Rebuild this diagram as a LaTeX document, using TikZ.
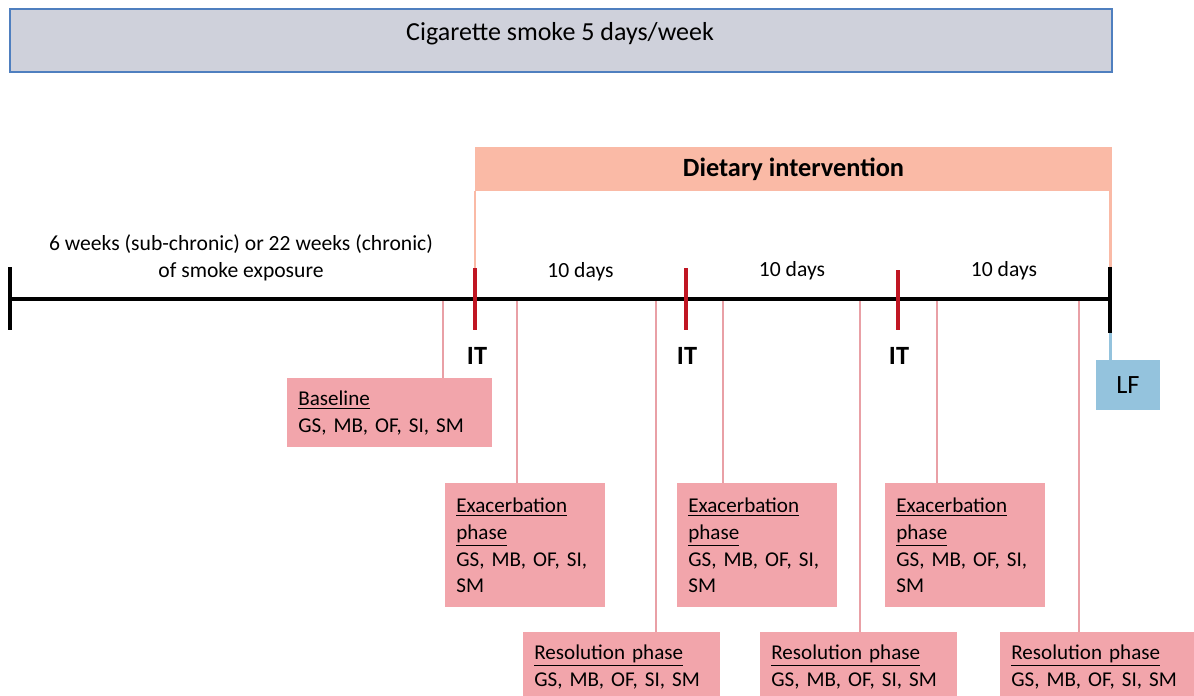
\documentclass[tikz,border=0pt]{standalone}
\usepackage{fontspec}
\setmainfont{Carlito}
\usetikzlibrary{positioning,calc}
\definecolor{smokegray}{HTML}{CFD1DB}
\definecolor{smokeblue}{HTML}{4F7FBF}
\definecolor{dietsalmon}{HTML}{FABAA6}
\definecolor{samplepink}{HTML}{F2A5AB}
\definecolor{linkpink}{HTML}{E9A0A6}
\definecolor{itred}{HTML}{C01623}
\definecolor{lfblue}{HTML}{94C3DD}

\begin{document}
\frenchspacing
\begin{tikzpicture}[
  x=0.02cm, y=-0.02cm,
  lbl/.style={font=\fontsize{12.3}{15.3}\selectfont, inner sep=0pt},
  itlbl/.style={font=\bfseries\fontsize{15}{18}\selectfont, inner sep=0pt},
  sample/.style={fill=samplepink, anchor=north west, align=left, inner xsep=0.22cm, inner ysep=0pt, font=\fontsize{12}{15.3}\selectfont},
  link/.style={linkpink, line width=1.6pt},
  dietline/.style={dietsalmon, line width=1.7pt},
  itmark/.style={itred, line width=2.3pt},
  endmark/.style={black, line width=2.3pt}
]
\useasboundingbox (0,0) rectangle (1194,696);
\clip (0,0) rectangle (1194,696);

% exposure and diet bars
\node[draw=smokeblue, fill=smokegray, line width=1.3pt, minimum width=22.04cm, minimum height=1.26cm, inner sep=0pt] (smoke) at (561,40.5) {};
\node[font=\fontsize{14.8}{17}\selectfont] (smoketxt) at (560,34) {Cigarette smoke 5 days/week};
\node[fill=dietsalmon, minimum width=12.74cm, minimum height=0.88cm, inner sep=0pt, font=\bfseries\fontsize{15}{17}\selectfont] (diet) at (793.5,169) {Dietary intervention};

% time points
\coordinate (t0) at (10,299);
\coordinate (it1) at (475,299);
\coordinate (it2) at (686,299);
\coordinate (it3) at (898,299);
\coordinate (t4) at (1110,299);
\coordinate (s1) at (443,299);
\coordinate (s2) at (517,299);
\coordinate (s3) at (656,299);
\coordinate (s4) at (723,299);
\coordinate (s5) at (860,299);
\coordinate (s6) at (937,299);
\coordinate (s7) at (1079,299);

% sampling boxes
\node[sample, text width=3.66cm, minimum height=1.38cm] (base) at (287,378) {\underline{Baseline}\\GS, MB, OF, SI, SM};
\node[sample, text width=2.76cm, minimum height=2.48cm] (exa1) at (445,483) {\underline{Exacerbation}\\\underline{phase}\\GS, MB, OF, SI,\\SM};
\node[sample, text width=2.76cm, minimum height=2.48cm] (exa2) at (677,483) {\underline{Exacerbation}\\\underline{phase}\\GS, MB, OF, SI,\\SM};
\node[sample, text width=2.76cm, minimum height=2.48cm] (exa3) at (885,483) {\underline{Exacerbation}\\\underline{phase}\\GS, MB, OF, SI,\\SM};
\node[sample, text width=3.5cm, minimum height=1.4cm] (res1) at (523,632) {\underline{Resolution phase}\\GS, MB, OF, SI, SM};
\node[sample, text width=3.5cm, minimum height=1.4cm] (res2) at (760,632) {\underline{Resolution phase}\\GS, MB, OF, SI, SM};
\node[sample, text width=3.5cm, minimum height=1.4cm] (res3) at (1000,632) {\underline{Resolution phase}\\GS, MB, OF, SI, SM};
\node[fill=lfblue, minimum width=1.28cm, minimum height=1cm, inner sep=0pt, font=\fontsize{15}{18}\selectfont] (lf) at (1128,385) {LF};

\draw[link] (s1) -- (s1 |- base.north);
\draw[link] (s2) -- (s2 |- exa1.north);
\draw[link] (s3) -- (s3 |- res1.north);
\draw[link] (s4) -- (s4 |- exa2.north);
\draw[link] (s5) -- (s5 |- res2.north);
\draw[link] (s6) -- (s6 |- exa3.north);
\draw[link] (s7) -- (s7 |- res3.north);

% timeline
\draw[dietline] (diet.south -| it1) -- ($(it1)+(0,-31)$);
\draw[dietline] (diet.south -| t4) -- ($(t4)+(0,-32)$);
\draw[lfblue, line width=1.7pt] ($(t4)+(0,34)$) -- (lf.north -| t4);
\draw[line width=2.8pt] (t0) -- (t4);
\draw[endmark] ($(t0)+(0,-32)$) -- ($(t0)+(0,31)$);
\draw[endmark] ($(t4)+(0,-32)$) -- ($(t4)+(0,34)$);
\draw[itmark] ($(it1)+(0,-31)$) -- ($(it1)+(0,31)$);
\draw[itmark] ($(it2)+(0,-31)$) -- ($(it2)+(0,31)$);
\draw[itmark] ($(it3)+(0,-29)$) -- ($(it3)+(0,31)$);

\node[itlbl] (it1lbl) at ($(it1)+(2,57)$) {IT};
\node[itlbl] (it2lbl) at ($(it2)+(1,57)$) {IT};
\node[itlbl] (it3lbl) at ($(it3)+(1,57)$) {IT};

\node[lbl, align=center] (pre) at (241,258) {6 weeks (sub-chronic) or 22 weeks (chronic)\\of smoke exposure};
\node[lbl] (d1) at ($($(it1)!0.5!(it2)$)+(0,-27)$) {10 days};
\node[lbl] (d2) at ($($(it2)!0.5!(it3)$)+(0,-28)$) {10 days};
\node[lbl] (d3) at ($($(it3)!0.5!(t4)$)+(0,-28)$) {10 days};
\end{tikzpicture}
\end{document}
